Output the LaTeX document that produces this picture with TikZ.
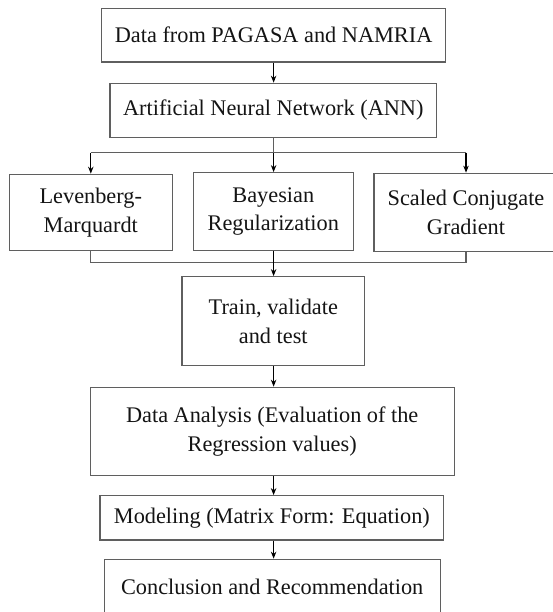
\documentclass[tikz,border=0pt]{standalone}
\usepackage{fontspec}
\setmainfont{Liberation Serif}
\usetikzlibrary{arrows.meta}
\definecolor{boxline}{RGB}{95,95,95}
\definecolor{txt}{RGB}{20,20,20}
\tikzset{
  flowbox/.style={draw=boxline, line width=1.3pt, fill=white, align=center, text=txt,
    font=\fontsize{22.3}{28.5}\selectfont, inner sep=0pt},
  link/.style={draw=boxline, line width=1.3pt},
  arr/.style={draw=black, line width=1.1pt, -{Stealth[length=7pt,width=5.5pt]}}
}
\begin{document}
\begin{tikzpicture}[x=1pt,y=-1pt]
\useasboundingbox (0,0) rectangle (552,612);
\node[flowbox, minimum width=344pt, minimum height=53.5pt] (data) at (273.6,35.2) {Data from PAGASA and NAMRIA};
\node[flowbox, minimum width=326.5pt, minimum height=54pt] (ann) at (273.3,110.3) {Artificial Neural Network (ANN)};
\node[flowbox, minimum width=163pt, minimum height=76.4pt] (lm) at (90.8,212.5) {Levenberg-\\Marquardt};
\node[flowbox, minimum width=160pt, minimum height=78pt] (br) at (273.3,211.7) {Bayesian\\Regularization};
\node[flowbox, minimum width=184pt, minimum height=78.4pt] (scg) at (466,212.5) {Scaled Conjugate\\Gradient};
\node[flowbox, minimum width=182.6pt, minimum height=89pt] (train) at (273.3,321.2) {Train, validate\\and test};
\node[flowbox, minimum width=364pt, minimum height=88.4pt] (da) at (272.2,431.5) {Data Analysis (Evaluation of the\\Regression values)};
\node[flowbox, minimum width=343.7pt, minimum height=44.3pt] (mod) at (271.9,517.9) {Modeling (Matrix Form: Equation)};
\node[flowbox, minimum width=336pt, minimum height=55pt] (conc) at (272.2,586.8) {Conclusion and Recommendation};
% split
\coordinate (split) at (273.6,152.7);
\coordinate (splitL) at (90.8,152.7);
\coordinate (splitR) at (466,152.7);
\draw[link] (splitL) -- (splitR);
\draw[link] (split |- ann.south) -- (split);
\draw[arr] (split |- data.south) -- (split |- ann.north);
\draw[arr] (split) -- (split |- br.north);
\draw[arr] (splitL) -- (lm.north);
\draw[arr] (splitR) -- (scg.north);
% merge
\coordinate (mergeL) at (90.8,262.7);
\coordinate (mergeR) at (466,262.7);
\draw[link] (lm.south) -- (mergeL) -- (mergeR) -- (scg.south);
\draw[arr] (split |- br.south) -- (split |- train.north);
\draw[arr] (split |- train.south) -- (split |- da.north);
\draw[arr] (split |- da.south) -- (split |- mod.north);
\draw[arr] (split |- mod.south) -- (split |- conc.north);
\end{tikzpicture}
\end{document}
